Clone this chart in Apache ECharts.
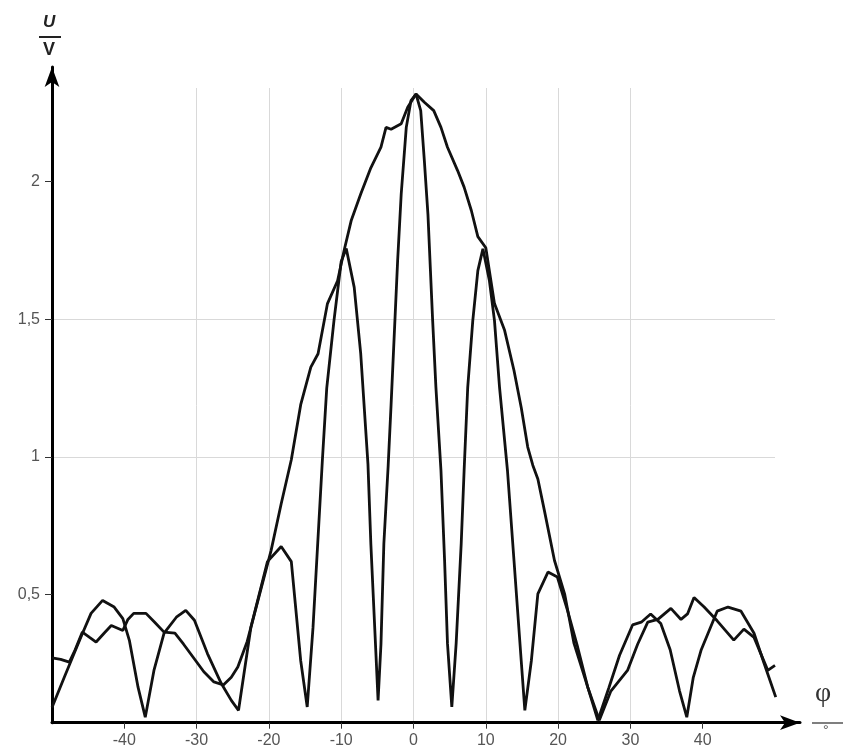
<!DOCTYPE html>
<html>
<head>
<meta charset="utf-8">
<script src="https://cdn.jsdelivr.net/npm/echarts@6/dist/echarts.min.js"></script>
<style>
html,body{margin:0;padding:0;background:#fff;}
#chart{width:843px;height:755px;}
</style>
</head>
<body>
<div id="chart"></div>
<script>
// angle phi (degrees) and voltage U (V)
const broadPattern = [
  [-50,0.27],[-48.8,0.265],[-47.6,0.255],[-46.8,0.3],[-45.8,0.364],[-44.8,0.345],[-43.9,0.328],
  [-42.8,0.36],[-41.8,0.388],[-40.2,0.37],[-39.5,0.41],[-38.7,0.432],[-37,0.432],[-35.8,0.4],
  [-34.5,0.364],[-33,0.36],[-31.8,0.32],[-30.4,0.27],[-29,0.22],[-27.6,0.183],[-26.3,0.172],
  [-25.2,0.2],[-24.3,0.237],[-23,0.33],[-22,0.43],[-20.8,0.55],[-19.7,0.66],[-18.3,0.83],
  [-16.9,0.99],[-15.6,1.19],[-14.2,1.326],[-13.2,1.375],[-11.9,1.557],[-10.5,1.64],[-9.6,1.75],
  [-8.6,1.86],[-7.3,1.955],[-5.9,2.05],[-4.5,2.125],[-3.8,2.197],[-3.1,2.19],[-1.7,2.21],
  [-0.8,2.27],[0.35,2.318],[1.5,2.288],[2.8,2.258],[3.8,2.197],[4.7,2.125],[6.1,2.04],[7,1.98],
  [8,1.895],[8.9,1.80],[10,1.76],[11.2,1.557],[12.6,1.46],[13.9,1.314],[14.9,1.18],[15.8,1.036],
  [16.5,0.97],[17.2,0.92],[18.1,0.806],[19.5,0.624],[20.9,0.503],[22.2,0.323],[24.1,0.164],
  [25.7,0.044],[27.3,0.15],[29.6,0.225],[31,0.32],[32.4,0.40],[33.8,0.41],[35.6,0.45],[37,0.41],
  [37.9,0.43],[38.8,0.49],[40.2,0.455],[42,0.405],[44.3,0.335],[45.7,0.375],[47.1,0.345],
  [49,0.225],[50,0.243]
];
const fringePattern = [
  [-50,0.09],[-48.3,0.2],[-46,0.346],[-44.6,0.432],[-43,0.479],[-41.4,0.455],[-40.2,0.413],
  [-39.3,0.334],[-38.1,0.164],[-37.1,0.055],[-35.9,0.225],[-34.5,0.36],[-32.8,0.418],[-31.5,0.443],
  [-30.3,0.407],[-28.5,0.286],[-26.6,0.178],[-25.2,0.116],[-24.2,0.08],[-22.5,0.38],[-20.2,0.62],
  [-18.3,0.675],[-16.9,0.62],[-15.6,0.26],[-14.7,0.092],[-13.9,0.38],[-12.6,0.99],[-12,1.25],
  [-11,1.495],[-10,1.71],[-9.3,1.757],[-8.2,1.616],[-7.3,1.375],[-6.3,0.975],[-5.9,0.685],
  [-5.2,0.287],[-4.9,0.116],[-4.5,0.32],[-4.1,0.685],[-3.5,0.97],[-3.1,1.19],[-2.2,1.71],
  [-1.7,1.955],[-1.0,2.197],[-0.35,2.294],[0.35,2.318],[1.0,2.258],[1.5,2.076],[2.0,1.88],
  [2.65,1.495],[3.1,1.253],[3.8,0.95],[4.3,0.624],[4.7,0.323],[5.3,0.092],[5.9,0.323],
  [6.6,0.686],[7.0,0.95],[7.5,1.253],[8.2,1.495],[8.9,1.677],[9.6,1.756],[10.5,1.64],
  [11.2,1.495],[11.9,1.253],[13,0.95],[13.9,0.624],[14.9,0.26],[15.4,0.08],[16.3,0.26],
  [17.2,0.503],[18.6,0.582],[19.9,0.564],[21.3,0.443],[22.7,0.31],[24.1,0.164],[25.5,0.044],
  [27,0.16],[28.5,0.28],[30.3,0.39],[31.5,0.4],[32.8,0.43],[34.2,0.395],[35.5,0.3],[36.8,0.15],
  [37.8,0.055],[38.7,0.2],[39.8,0.30],[42,0.44],[43.5,0.455],[45.3,0.44],[47.1,0.36],
  [48.5,0.25],[50.1,0.128]
];
const xTicks = [-40,-30,-20,-10,0,10,20,30,40];
const yTicks = [0.5,1,1.5,2];
const yTickLabels = ['0,5','1','1,5','2'];

const chart = echarts.init(document.getElementById('chart'));
const labelFont = {fontFamily:'Liberation Sans', fontSize:16, color:'#555'};
const lineStyle = {color:'#111', width:2.8};

chart.setOption({
  animation:false,
  backgroundColor:'#fff',
  grid:[
    {left:52, right:68, top:88, bottom:32.3},
    {left:52, right:43, top:67, bottom:32.3}
  ],
  xAxis:[
    {gridIndex:0, type:'value', min:-50, max:50, interval:10,
     axisLine:{show:false, onZero:false},
     axisTick:{show:true, length:6, customValues:xTicks, lineStyle:{color:'#333'}},
     axisLabel:Object.assign({margin:10, customValues:xTicks}, labelFont),
     splitLine:{show:true, showMinLine:false, showMaxLine:false, lineStyle:{color:'#d9d9d9', width:1}}},
    {gridIndex:1, type:'value', min:0, max:1,
     axisLine:{show:true, onZero:false, symbol:['none','arrow'], symbolSize:[11,20], lineStyle:{color:'#000', width:3}},
     axisTick:{show:false}, axisLabel:{show:false}, splitLine:{show:false}}
  ],
  yAxis:[
    {gridIndex:0, type:'value', min:0.035, max:2.34, splitNumber:5,
     axisLine:{show:false, onZero:false},
     axisTick:{show:true, length:7, customValues:yTicks, lineStyle:{color:'#333'}},
     axisLabel:Object.assign({margin:12, customValues:yTicks,
       formatter:function(v){const i=yTicks.indexOf(Math.round(v*10)/10); return i>=0?yTickLabels[i]:'';}}, labelFont),
     splitLine:{show:true, showMinLine:false, showMaxLine:false, lineStyle:{color:'#d9d9d9', width:1}}},
    {gridIndex:1, type:'value', min:0, max:1,
     axisLine:{show:true, onZero:false, symbol:['none','arrow'], symbolSize:[11,20], lineStyle:{color:'#000', width:3}},
     axisTick:{show:false}, axisLabel:{show:false}, splitLine:{show:false}}
  ],
  series:[
    {type:'line', xAxisIndex:0, yAxisIndex:0, data:broadPattern, showSymbol:false, lineStyle:lineStyle, z:3},
    {type:'line', xAxisIndex:0, yAxisIndex:0, data:fringePattern, showSymbol:false, lineStyle:lineStyle, z:3}
  ],
  graphic:[
    {type:'text', left:43, top:14, style:{text:'U', font:'italic bold 17px "Liberation Sans"', fill:'#222'}},
    {type:'line', shape:{x1:39, y1:37, x2:61, y2:37}, style:{stroke:'#222', lineWidth:2}},
    {type:'text', left:43, top:41, style:{text:'V', font:'bold 18px "Liberation Sans"', fill:'#222'}},
    {type:'text', left:815, top:680, style:{text:'φ', font:'28px "Liberation Serif"', fill:'#333'}},
    {type:'line', shape:{x1:812, y1:723, x2:843, y2:723}, style:{stroke:'#555', lineWidth:1.5}},
    {type:'text', left:823, top:724, style:{text:'°', font:'14px "Liberation Sans"', fill:'#555'}}
  ]
});
</script>
</body>
</html>
